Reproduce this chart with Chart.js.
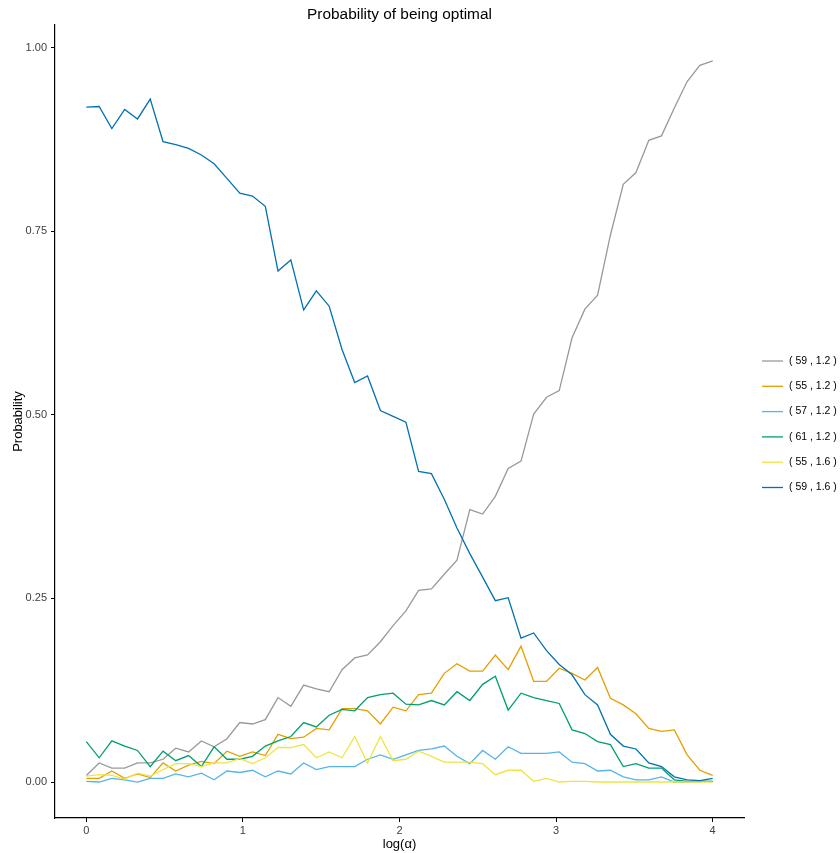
<!DOCTYPE html>
<html>
<head>
<meta charset="utf-8">
<title>Probability of being optimal</title>
<script src="https://cdn.jsdelivr.net/npm/chart.js@4/dist/chart.umd.min.js"></script>
<style>
  html, body { margin: 0; padding: 0; background: #ffffff; }
  #wrap { width: 840px; height: 853px; }
</style>
</head>
<body>
<div id="wrap"><canvas id="chart" width="840" height="853"></canvas></div>
<script>
// log(alpha) grid: 50 evenly spaced points from 0 to 4
const logAlpha = [
  0, 0.082, 0.163, 0.245, 0.327, 0.408, 0.49, 0.571, 0.653, 0.735,
  0.816, 0.898, 0.98, 1.061, 1.143, 1.224, 1.306, 1.388, 1.469, 1.551,
  1.633, 1.714, 1.796, 1.878, 1.959, 2.041, 2.122, 2.204, 2.286, 2.367,
  2.449, 2.531, 2.612, 2.694, 2.776, 2.857, 2.939, 3.02, 3.102, 3.184,
  3.265, 3.347, 3.429, 3.51, 3.592, 3.673, 3.755, 3.837, 3.918, 4
];

// Series names: ( sample size , threshold )
const seriesLabels = ['( 59 , 1.2 )', '( 55 , 1.2 )', '( 57 , 1.2 )', '( 61 , 1.2 )', '( 55 , 1.6 )', '( 59 , 1.6 )'];

// Probability of each configuration being optimal
const prob59_12 = [
  0.009, 0.026, 0.019, 0.019, 0.026, 0.026, 0.031, 0.046, 0.041, 0.056,
  0.048, 0.059, 0.081, 0.079, 0.085, 0.115, 0.103, 0.132, 0.127, 0.123,
  0.153, 0.169, 0.173, 0.191, 0.213, 0.233, 0.261, 0.263, 0.283, 0.302,
  0.371, 0.365, 0.389, 0.427, 0.437, 0.501, 0.524, 0.533, 0.605, 0.644,
  0.663, 0.745, 0.814, 0.830, 0.874, 0.880, 0.918, 0.954, 0.976, 0.982
];
const prob55_12 = [
  0.005, 0.005, 0.015, 0.005, 0.011, 0.006, 0.026, 0.015, 0.023, 0.028,
  0.025, 0.042, 0.035, 0.041, 0.036, 0.065, 0.059, 0.061, 0.073, 0.071,
  0.100, 0.100, 0.097, 0.079, 0.102, 0.097, 0.119, 0.121, 0.148, 0.161,
  0.151, 0.151, 0.173, 0.153, 0.185, 0.137, 0.137, 0.155, 0.148, 0.139,
  0.156, 0.114, 0.105, 0.093, 0.073, 0.069, 0.071, 0.037, 0.016, 0.009
];
const prob57_12 = [
  0.001, 0.000, 0.005, 0.003, 0.000, 0.005, 0.005, 0.011, 0.007, 0.012,
  0.003, 0.015, 0.013, 0.016, 0.007, 0.015, 0.011, 0.026, 0.017, 0.021,
  0.021, 0.021, 0.031, 0.037, 0.031, 0.037, 0.043, 0.045, 0.049, 0.035,
  0.025, 0.043, 0.031, 0.048, 0.039, 0.039, 0.039, 0.041, 0.027, 0.025,
  0.015, 0.016, 0.007, 0.003, 0.003, 0.007, 0.000, 0.000, 0.001, 0.001
];
const prob61_12 = [
  0.055, 0.033, 0.056, 0.049, 0.043, 0.021, 0.042, 0.029, 0.036, 0.021,
  0.048, 0.031, 0.031, 0.035, 0.049, 0.056, 0.062, 0.081, 0.075, 0.091,
  0.099, 0.097, 0.115, 0.119, 0.121, 0.106, 0.105, 0.111, 0.105, 0.123,
  0.111, 0.133, 0.144, 0.098, 0.121, 0.115, 0.111, 0.107, 0.071, 0.066,
  0.055, 0.051, 0.021, 0.025, 0.019, 0.019, 0.003, 0.001, 0.001, 0.001
];
const prob55_16 = [
  0.008, 0.010, 0.009, 0.004, 0.012, 0.008, 0.017, 0.025, 0.025, 0.021,
  0.026, 0.026, 0.032, 0.025, 0.033, 0.047, 0.047, 0.051, 0.033, 0.041,
  0.033, 0.062, 0.026, 0.062, 0.029, 0.031, 0.042, 0.035, 0.027, 0.027,
  0.027, 0.025, 0.010, 0.016, 0.016, 0.001, 0.005, 0.000, 0.001, 0.001,
  0.000, 0.000, 0.000, 0.000, 0.000, 0.000, 0.000, 0.000, 0.000, 0.000
];
const prob59_16 = [
  0.919, 0.920, 0.890, 0.916, 0.903, 0.930, 0.872, 0.868, 0.863, 0.854,
  0.842, 0.822, 0.802, 0.798, 0.784, 0.696, 0.711, 0.643, 0.669, 0.648,
  0.589, 0.544, 0.553, 0.506, 0.498, 0.490, 0.423, 0.420, 0.385, 0.346,
  0.311, 0.279, 0.247, 0.251, 0.196, 0.203, 0.179, 0.160, 0.146, 0.119,
  0.105, 0.065, 0.049, 0.045, 0.026, 0.021, 0.007, 0.003, 0.002, 0.005
];

const xTickValues = [0, 1, 2, 3, 4];
const xTickLabels = ['0', '1', '2', '3', '4'];
const yTickValues = [0, 0.25, 0.5, 0.75, 1];
const yTickLabels = ['0.00', '0.25', '0.50', '0.75', '1.00'];

const seriesValues = [prob59_12, prob55_12, prob57_12, prob61_12, prob55_16, prob59_16];
const seriesColors = ['#999999', '#E69F00', '#56B4E9', '#009E73', '#F0E442', '#0072B2'];

const FONT = "'Liberation Sans', Arial, Helvetica, sans-serif";
const TICK_COLOR = '#404040';

const datasets = seriesValues.map((vals, i) => ({
  label: seriesLabels[i],
  data: logAlpha.map((x, j) => ({ x: x, y: vals[j] })),
  borderColor: seriesColors[i],
  backgroundColor: seriesColors[i],
  borderWidth: 1.3,
  pointRadius: 0,
  pointHoverRadius: 0,
  tension: 0,
  fill: false,
  // later series are painted on top
  order: seriesValues.length - i
}));

// Legend on the right side: short line keys followed by the series names
const sideLegend = {
  id: 'sideLegend',
  afterDraw(chart) {
    const ctx = chart.ctx;
    const x0 = 762, x1 = 783, tx = 789;
    const yStart = 361, step = 25.3;
    ctx.save();
    ctx.font = '10.5px ' + FONT;
    ctx.textAlign = 'left';
    ctx.textBaseline = 'middle';
    chart.data.datasets.forEach((ds, i) => {
      const y = yStart + i * step;
      ctx.strokeStyle = ds.borderColor;
      ctx.lineWidth = 1.3;
      ctx.beginPath();
      ctx.moveTo(x0, y);
      ctx.lineTo(x1, y);
      ctx.stroke();
      ctx.fillStyle = '#000000';
      ctx.fillText(ds.label, tx, y);
    });
    ctx.restore();
  }
};

const axisCommon = {
  type: 'linear',
  grid: {
    drawOnChartArea: false,
    drawTicks: true,
    tickLength: 4,
    tickColor: '#000000',
    tickWidth: 1
  },
  border: { display: true, color: '#000000', width: 1.2 }
};

new Chart(document.getElementById('chart'), {
  type: 'line',
  data: { datasets: datasets },
  plugins: [sideLegend],
  options: {
    responsive: false,
    animation: false,
    events: [],
    layout: { padding: { top: 0, right: 96, bottom: 0, left: 0 } },
    plugins: {
      legend: { display: false },
      tooltip: { enabled: false },
      title: {
        display: true,
        text: 'Probability of being optimal',
        fullSize: false,
        color: '#000000',
        font: { family: FONT, size: 15.4, weight: 'normal' },
        padding: { top: 6, bottom: 0.5 }
      }
    },
    scales: {
      x: Object.assign({}, axisCommon, {
        position: 'bottom',
        min: -0.2,
        max: 4.2,
        afterBuildTicks: (scale) => { scale.ticks = xTickValues.map(v => ({ value: v })); },
        afterFit: (scale) => { scale.height = 35; },
        ticks: {
          autoSkip: false,
          maxRotation: 0,
          padding: 2,
          color: TICK_COLOR,
          font: { family: FONT, size: 11 },
          callback: (v) => xTickLabels[xTickValues.indexOf(v)]
        },
        title: {
          display: true,
          text: 'log(α)',
          color: '#000000',
          font: { family: FONT, size: 13 },
          padding: { top: 0, bottom: 0.5 }
        }
      }),
      y: Object.assign({}, axisCommon, {
        position: 'left',
        min: -0.049,
        max: 1.031,
        afterBuildTicks: (scale) => { scale.ticks = yTickValues.map(v => ({ value: v })); },
        afterFit: (scale) => { scale.width = 55; },
        ticks: {
          autoSkip: false,
          padding: 4,
          color: TICK_COLOR,
          font: { family: FONT, size: 11 },
          callback: (v) => yTickLabels[yTickValues.indexOf(v)]
        },
        title: {
          display: true,
          text: 'Probability',
          color: '#000000',
          font: { family: FONT, size: 13 },
          padding: { top: 10.5, bottom: 0 }
        }
      })
    }
  }
});
</script>
</body>
</html>
